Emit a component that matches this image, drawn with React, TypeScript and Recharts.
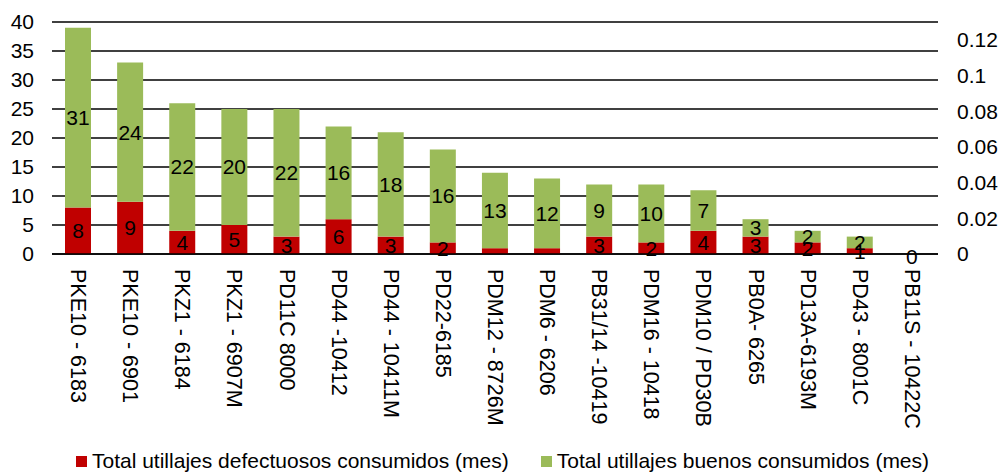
import React from "react";
import {
  BarChart,
  Bar,
  XAxis,
  YAxis,
  CartesianGrid,
  Legend,
  LabelList,
  ReferenceDot,
} from "recharts";

const categories = [
  "PKE10 - 6183",
  "PKE10 - 6901",
  "PKZ1 - 6184",
  "PKZ1 - 6907M",
  "PD11C 8000",
  "PD44 -10412",
  "PD44 - 10411M",
  "PD22-6185",
  "PDM12 - 8726M",
  "PDM6 - 6206",
  "PB31/14  -10419",
  "PDM16 - 10418",
  "PDM10 / PD30B",
  "PB0A- 6265",
  "PD13A-6193M",
  "PD43 - 8001C",
  "PB11S - 10422C",
];
const defectuosos = [8, 9, 4, 5, 3, 6, 3, 2, 1, 1, 3, 2, 4, 3, 2, 1, 0];
const buenos = [31, 24, 22, 20, 22, 16, 18, 16, 13, 12, 9, 10, 7, 3, 2, 2, 0];
// etiquetas visibles (las de 1 en PDM12 / PDM6 no aparecen en el original)
const defLabels = ["8", "9", "4", "5", "3", "6", "3", "2", "", "", "3", "2", "4", "3", "2", "1", "0"];
const goodLabels = ["31", "24", "22", "20", "22", "16", "18", "16", "13", "12", "9", "10", "7", "3", "2", "2", ""];
const leftTicks = [0, 5, 10, 15, 20, 25, 30, 35, 40];
const rightTicks = [0, 0.02, 0.04, 0.06, 0.08, 0.1, 0.12];

const RED = "#C00000";
const GREEN = "#9BBB59";
const FONT = "'Liberation Sans', Arial, sans-serif";
const FS = 21;

const data = categories.map((name, i) => ({
  name,
  def: defectuosos[i],
  good: buenos[i],
  defLabel: defLabels[i],
  goodLabel: goodLabels[i],
}));

// barras de valor 0: Recharts no dibuja su etiqueta, se pone con un ReferenceDot
const zeroIdx = categories.map((_, i) => i).filter((i) => defectuosos[i] + buenos[i] === 0);

const CatTick = (props: any) => {
  const { x, y, payload } = props;
  return (
    <text
      x={x}
      y={y}
      transform={`rotate(90 ${x} ${y})`}
      textAnchor="start"
      dominantBaseline="central"
      fontSize={FS + 0.5}
      fill="#000"
      fontFamily={FONT}
    >
      {payload.value}
    </text>
  );
};

const LegendBox = () => (
  <div
    style={{
      display: "flex",
      alignItems: "center",
      fontSize: FS,
      fontFamily: FONT,
      color: "#000",
      whiteSpace: "nowrap",
    }}
  >
    <span style={{ width: 11, height: 11, background: RED, display: "inline-block", marginRight: 5 }} />
    <span>Total utillajes defectuosos consumidos (mes)</span>
    <span style={{ width: 11, height: 11, background: GREEN, display: "inline-block", marginLeft: 32, marginRight: 5 }} />
    <span>Total utillajes buenos consumidos (mes)</span>
  </div>
);

export default function App() {
  return (
    <div style={{ position: "absolute", left: 0, top: 0, fontFamily: FONT }}>
      <BarChart
        width={1000}
        height={475}
        data={data}
        margin={{ top: 22, right: 0, left: 0, bottom: 0 }}
        barCategoryGap={13}
      >
        <CartesianGrid vertical={false} stroke="#000" strokeWidth={1.4} yAxisId="left" />
        <XAxis
          dataKey="name"
          interval={0}
          height={191}
          tickSize={0}
          tickMargin={15}
          tick={<CatTick />}
          axisLine={{ stroke: "#000", strokeWidth: 1.4 }}
          tickLine={false}
        />
        <YAxis
          yAxisId="left"
          domain={[0, 40]}
          ticks={leftTicks}
          interval={0}
          width={52}
          tickSize={0}
          tickMargin={18}
          axisLine={false}
          tickLine={false}
          tick={{ fontSize: FS, fill: "#000", fontFamily: FONT }}
        />
        <YAxis
          yAxisId="right"
          orientation="right"
          type="number"
          domain={[0, 0.13]}
          allowDataOverflow
          ticks={rightTicks}
          interval={0}
          width={62}
          tickSize={0}
          tickMargin={19}
          axisLine={false}
          tickLine={false}
          tick={{ fontSize: FS, fill: "#000", fontFamily: FONT, textAnchor: "start" }}
        />
        <Legend
          verticalAlign="bottom"
          height={30}
          content={<LegendBox />}
          wrapperStyle={{ left: 76, width: 920, bottom: -4 }}
        />
        <Bar
          yAxisId="left"
          dataKey="def"
          stackId="a"
          fill={RED}
          barSize={26}
          isAnimationActive={false}
        >
          <LabelList dataKey="defLabel" position="center" fill="#000" fontSize={FS} fontFamily={FONT} />
        </Bar>
        <Bar
          yAxisId="left"
          dataKey="good"
          stackId="a"
          fill={GREEN}
          barSize={26}
          isAnimationActive={false}
        >
          <LabelList dataKey="goodLabel" position="center" fill="#000" fontSize={FS} fontFamily={FONT} />
        </Bar>
        {zeroIdx.map((i) => (
          <ReferenceDot
            key={i}
            yAxisId="left"
            x={categories[i]}
            y={0}
            r={0}
            stroke="none"
            label={{ value: defLabels[i], position: "center", fill: "#000", fontSize: FS, fontFamily: FONT, dy: 3 }}
          />
        ))}
      </BarChart>
    </div>
  );
}
